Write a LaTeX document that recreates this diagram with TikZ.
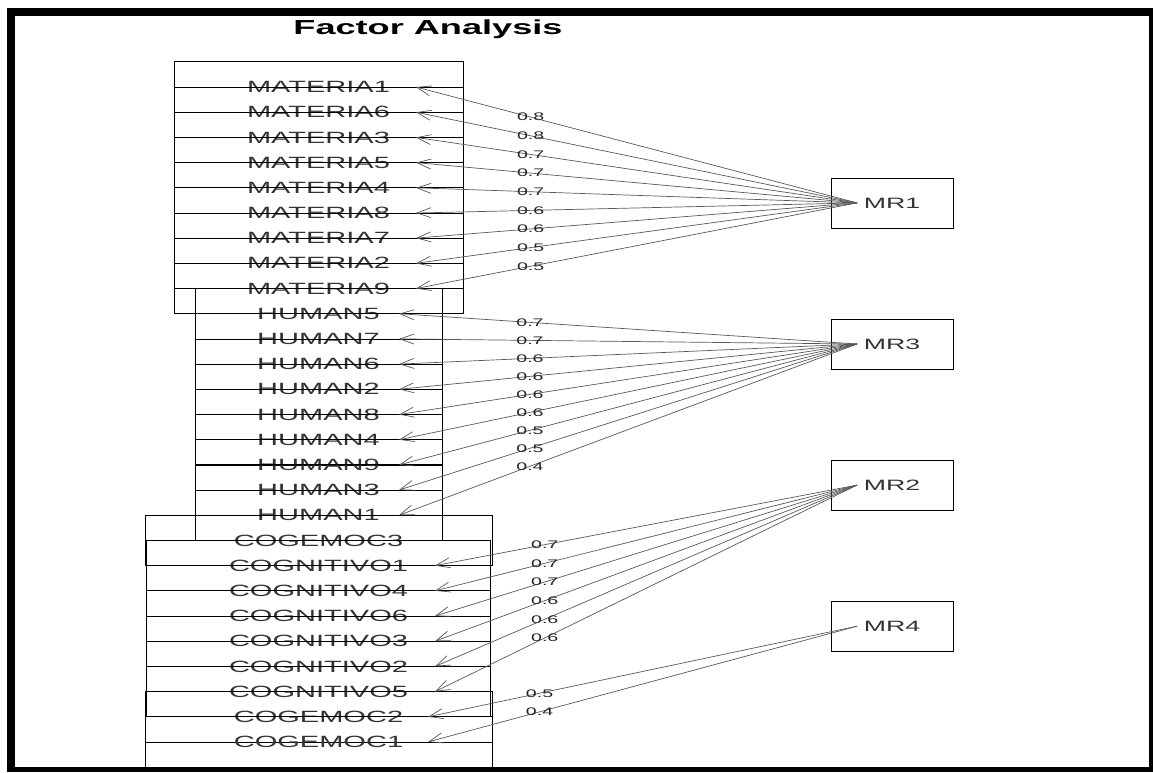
\documentclass[tikz,border=0pt]{standalone}
\usepackage{fontspec}
\setmainfont{Liberation Sans}
\usetikzlibrary{arrows.meta}
\newcommand{\estirar}[1]{\scalebox{1.78}[1]{#1}}

\begin{document}
\begin{tikzpicture}[
      x=1pt, y=-1pt,
      var/.style={draw, line width=0.8pt, minimum height=50.4pt, inner sep=0pt,
                  font=\fontsize{16.3}{18}\selectfont, text=black!80},
      mat/.style={var, minimum width=289pt},
      hum/.style={var, minimum width=247pt},
      cog/.style={var, minimum width=344pt},
      emo/.style={var, minimum width=347pt},
      fac/.style={draw, line width=0.8pt, minimum width=122pt, minimum height=50pt,
                  inner sep=0pt, font=\fontsize{15}{17}\selectfont, text=black!80},
      carga/.style={-{Straight Barb[length=14pt,width=10pt]}, line width=0.7pt, draw=black!65},
      peso/.style={pos=0.74, inner sep=0pt, font=\fontsize{11}{12}\selectfont, text=black!85},
      titulo/.style={font=\fontsize{20.3}{23}\selectfont\bfseries},
    ]

    % =============== MARCO ===============================================
    \useasboundingbox (0,0) rectangle (1153,772);
    \fill[black] (7,8) rectangle (1153,772);
    \fill[white] (15,16) rectangle (1149,767);

    \node[titulo, anchor=base] (tit) at (428,34) {\estirar{Factor Analysis}};

    % =============== VARIABLES ===========================================
    % --- MATERIA ---
    \node[mat] (mat1) at (318.5,87.0)  {\estirar{MATERIA1}};
    \node[mat] (mat6) at (318.5,112.2) {\estirar{MATERIA6}};
    \node[mat] (mat3) at (318.5,137.4) {\estirar{MATERIA3}};
    \node[mat] (mat5) at (318.5,162.6) {\estirar{MATERIA5}};
    \node[mat] (mat4) at (318.5,187.8) {\estirar{MATERIA4}};
    \node[mat] (mat8) at (318.5,213.0) {\estirar{MATERIA8}};
    \node[mat] (mat7) at (318.5,238.1) {\estirar{MATERIA7}};
    \node[mat] (mat2) at (318.5,263.3) {\estirar{MATERIA2}};
    \node[mat] (mat9) at (318.5,288.5) {\estirar{MATERIA9}};

    % --- HUMAN ---
    \node[hum] (hum5) at (318.5,313.7) {\estirar{HUMAN5}};
    \node[hum] (hum7) at (318.5,338.9) {\estirar{HUMAN7}};
    \node[hum] (hum6) at (318.5,364.1) {\estirar{HUMAN6}};
    \node[hum] (hum2) at (318.5,389.3) {\estirar{HUMAN2}};
    \node[hum] (hum8) at (318.5,414.5) {\estirar{HUMAN8}};
    \node[hum] (hum4) at (318.5,439.7) {\estirar{HUMAN4}};
    \node[hum] (hum9) at (318.5,464.9) {\estirar{HUMAN9}};
    \node[hum] (hum3) at (318.5,490.0) {\estirar{HUMAN3}};
    \node[hum] (hum1) at (318.5,515.2) {\estirar{HUMAN1}};

    % --- COGNITIVO / COGEMOC ---
    \node[emo] (emo3) at (318.5,540.4) {\estirar{COGEMOC3}};
    \node[cog] (cog1) at (318.5,565.6) {\estirar{COGNITIVO1}};
    \node[cog] (cog4) at (318.5,590.8) {\estirar{COGNITIVO4}};
    \node[cog] (cog6) at (318.5,616.0) {\estirar{COGNITIVO6}};
    \node[cog] (cog3) at (318.5,641.2) {\estirar{COGNITIVO3}};
    \node[cog] (cog2) at (318.5,666.4) {\estirar{COGNITIVO2}};
    \node[cog] (cog5) at (318.5,691.6) {\estirar{COGNITIVO5}};
    \node[emo] (emo2) at (318.5,716.8) {\estirar{COGEMOC2}};
    \node[emo] (emo1) at (318.5,741.9) {\estirar{COGEMOC1}};

    % =============== FACTORES ============================================
    \node[fac] (mr1) at (892,202.9) {\estirar{MR1}};
    \node[fac] (mr3) at (892,344.0) {\estirar{MR3}};
    \node[fac] (mr2) at (892,485.1) {\estirar{MR2}};
    \node[fac] (mr4) at (892,626.2) {\estirar{MR4}};

    \coordinate (o1) at ([xshift=-35pt]mr1.center);
    \coordinate (o3) at ([xshift=-35pt]mr3.center);
    \coordinate (o2) at ([xshift=-35pt]mr2.center);
    \coordinate (o4) at ([xshift=-35pt]mr4.center);

    % =============== CARGAS ==============================================
    % --- MR1 ---
    \draw[carga] (o1) -- node[peso]{\estirar{0.8}} ([xshift=97.5pt]mat1.center);
    \draw[carga] (o1) -- node[peso]{\estirar{0.8}} ([xshift=97.5pt]mat6.center);
    \draw[carga] (o1) -- node[peso]{\estirar{0.7}} ([xshift=97.5pt]mat3.center);
    \draw[carga] (o1) -- node[peso]{\estirar{0.7}} ([xshift=97.5pt]mat5.center);
    \draw[carga] (o1) -- node[peso]{\estirar{0.7}} ([xshift=97.5pt]mat4.center);
    \draw[carga] (o1) -- node[peso]{\estirar{0.6}} ([xshift=97.5pt]mat8.center);
    \draw[carga] (o1) -- node[peso]{\estirar{0.6}} ([xshift=97.5pt]mat7.center);
    \draw[carga] (o1) -- node[peso]{\estirar{0.5}} ([xshift=97.5pt]mat2.center);
    \draw[carga] (o1) -- node[peso]{\estirar{0.5}} ([xshift=97.5pt]mat9.center);

    % --- MR3 ---
    \begin{scope}[peso/.append style={pos=0.714}]
    \draw[carga] (o3) -- node[peso]{\estirar{0.7}} ([xshift=80.5pt]hum5.center);
    \draw[carga] (o3) -- node[peso]{\estirar{0.7}} ([xshift=80.5pt]hum7.center);
    \draw[carga] (o3) -- node[peso]{\estirar{0.6}} ([xshift=80.5pt]hum6.center);
    \draw[carga] (o3) -- node[peso]{\estirar{0.6}} ([xshift=80.5pt]hum2.center);
    \draw[carga] (o3) -- node[peso]{\estirar{0.6}} ([xshift=80.5pt]hum8.center);
    \draw[carga] (o3) -- node[peso]{\estirar{0.6}} ([xshift=80.5pt]hum4.center);
    \draw[carga] (o3) -- node[peso]{\estirar{0.5}} ([xshift=80.5pt]hum9.center);
    \draw[carga] (o3) -- node[peso]{\estirar{0.5}} ([xshift=80.5pt]hum3.center);
    \draw[carga] (o3) -- node[peso]{\estirar{0.4}} ([xshift=80.5pt]hum1.center);
    \end{scope}

    % --- MR2 ---
    \draw[carga] (o2) -- node[peso]{\estirar{0.7}} ([xshift=116.5pt]cog1.center);
    \draw[carga] (o2) -- node[peso]{\estirar{0.7}} ([xshift=116.5pt]cog4.center);
    \draw[carga] (o2) -- node[peso]{\estirar{0.7}} ([xshift=116.5pt]cog6.center);
    \draw[carga] (o2) -- node[peso]{\estirar{0.6}} ([xshift=116.5pt]cog3.center);
    \draw[carga] (o2) -- node[peso]{\estirar{0.6}} ([xshift=116.5pt]cog2.center);
    \draw[carga] (o2) -- node[peso]{\estirar{0.6}} ([xshift=116.5pt]cog5.center);

    % --- MR4 ---
    \draw[carga] (o4) -- node[peso]{\estirar{0.5}} ([xshift=109.5pt]emo2.center);
    \draw[carga] (o4) -- node[peso]{\estirar{0.4}} ([xshift=109.5pt]emo1.center);
  \end{tikzpicture}
\end{document}
